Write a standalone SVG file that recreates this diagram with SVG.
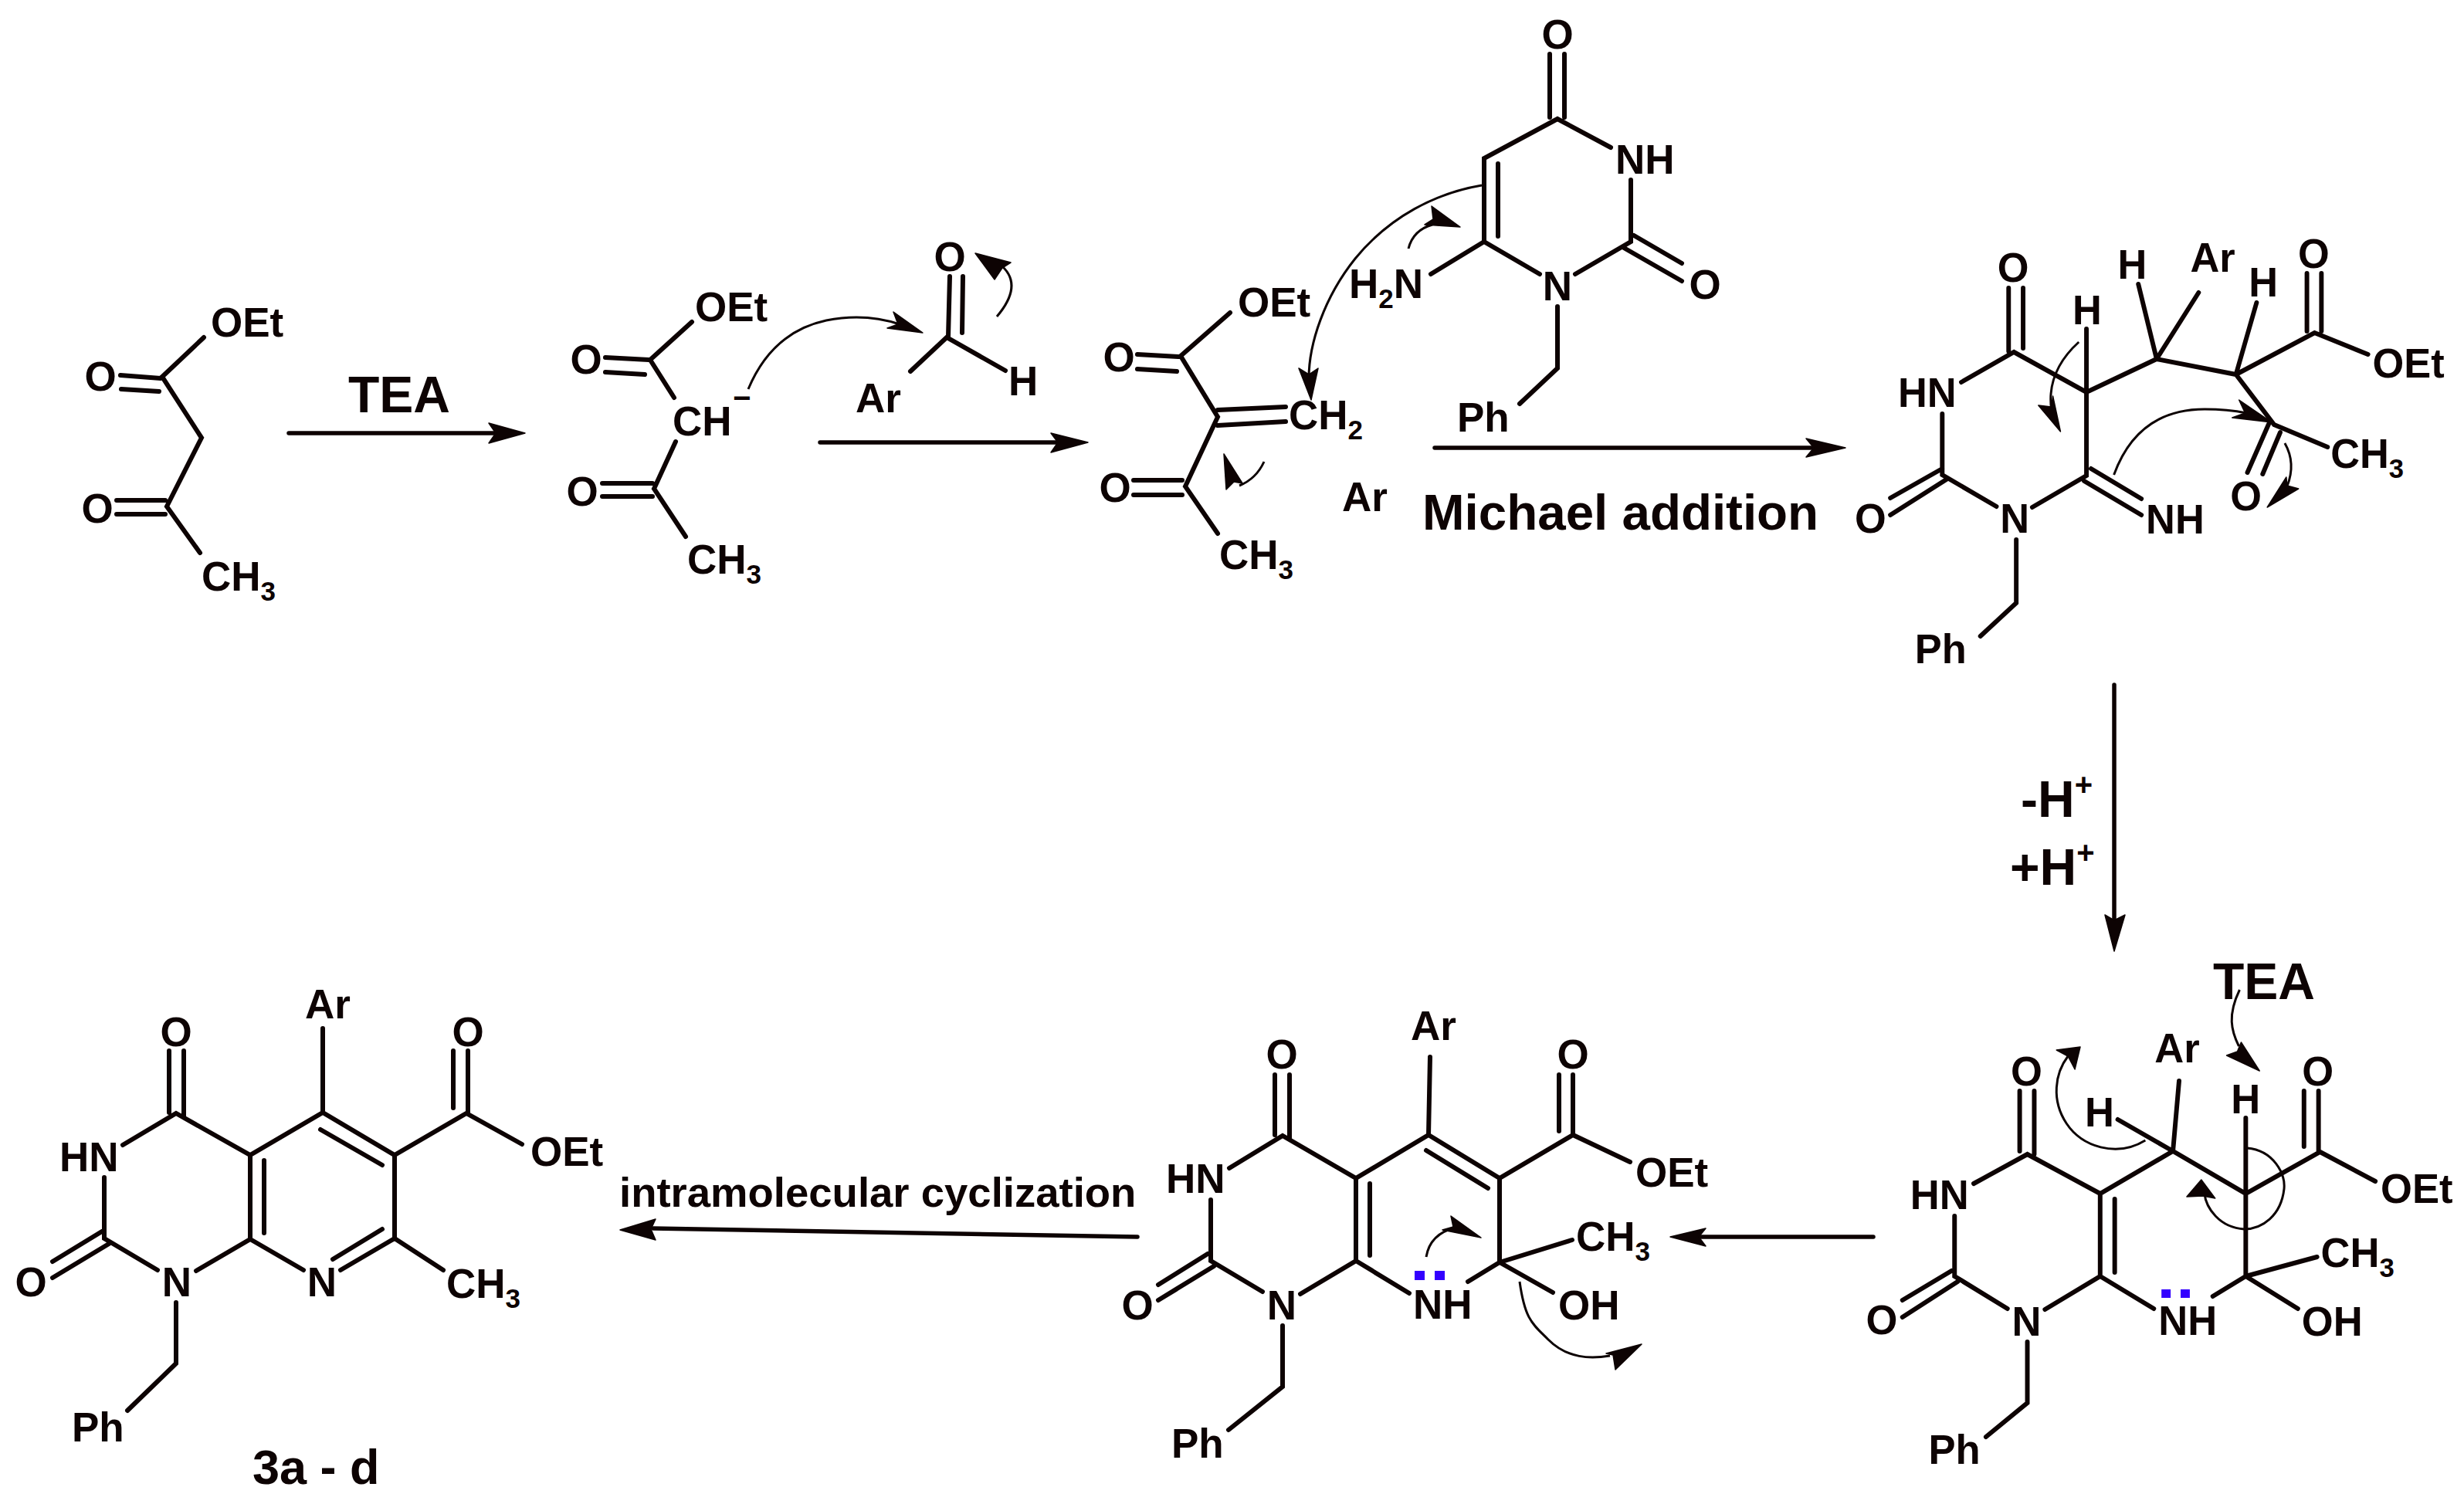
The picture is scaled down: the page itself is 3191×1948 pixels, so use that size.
<svg xmlns="http://www.w3.org/2000/svg" width="3191" height="1948" viewBox="0 0 3191 1948">
<style>
text{font-family:"Liberation Sans",Arial,sans-serif;font-weight:700;font-size:53px;fill:#0d0303}
.m{text-anchor:middle}
.big{font-size:66px}
.mid{font-size:54.5px}
.s{font-size:35px}
.sp{font-size:40px}
.b{stroke:#0d0303;stroke-width:6;stroke-linecap:round;fill:none}
.a{stroke:#0d0303;stroke-width:5.5;stroke-linecap:round;fill:none}
.c{stroke:#0d0303;stroke-width:3;fill:none}
.h{fill:#0d0303;stroke:#0d0303;stroke-width:1.5;stroke-linejoin:round}
.d{fill:#3300ff}
</style>
<rect width="3191" height="1948" fill="#fff"/>
<g id="connectors">
<path class="a" d="M374 561H640"/><polygon class="h" points="680,561 633,548 642,561 633,574"/>
<path class="a" d="M1062 573H1372"/><polygon class="h" points="1409,573 1361,561 1370,573 1361,586"/>
<path class="a" d="M1858 580H2350"/><polygon class="h" points="2390,580 2339,568 2349,580 2339,592"/>
<path class="a" d="M2738 887V1195"/><polygon class="h" points="2738,1232 2726,1185 2738,1192 2752,1185"/>
<path class="a" d="M2426 1602H2200"/><polygon class="h" points="2163,1602 2209,1591 2200,1602 2209,1614"/>
<path class="a" d="M1473 1602L846 1591"/><polygon class="h" points="803,1593 849,1579 843,1592 849,1606"/>
</g>
<g id="curved-arrows">
<path class="c" d="M969 504Q1000 430 1070 415Q1120 405 1165 420"/><polygon class="h" points="1195,431 1157,404 1163,420 1149,425"/>
<path class="c" d="M1291 410Q1325 370 1298 345"/><polygon class="h" points="1263,328 1309,340 1298,347 1288,362"/>
<path class="c" d="M1919 240C1860 250 1800 280 1755 335C1715 385 1695 445 1695 490"/><polygon class="h" points="1698,518 1682,477 1695,485 1707,477"/>
<path class="c" d="M1824 322Q1830 298 1855 291"/><polygon class="h" points="1891,294 1854,267 1856,284 1845,291"/>
<path class="c" d="M1637 598Q1627 620 1605 629"/><polygon class="h" points="1585,588 1588,634 1598,624 1609,626"/>
<g transform="translate(29.5 0) scale(.988 1)">
<path class="c" d="M2695 443C2665 470 2655 500 2659 530"/><polygon class="h" points="2671,559 2642,525 2659,527 2661,513"/>
<path class="c" d="M2741 615C2765 550 2810 530 2860 530Q2890 530 2915 535"/><polygon class="h" points="2948,547 2905,518 2913,535 2896,541"/>
<path class="c" d="M2965 574Q2980 600 2968 630"/><polygon class="h" points="2942,657 2983,633 2968,629 2967,618"/>
</g>
<g transform="translate(16.5 0) scale(.9924 1)">
<path class="c" d="M2783 1477C2745 1500 2700 1485 2680 1455C2660 1425 2665 1390 2682 1368"/><polygon class="h" points="2698,1356 2667,1360 2682,1368 2691,1385"/>
<path class="c" d="M2906 1282C2890 1315 2895 1335 2905 1355"/><polygon class="h" points="2932,1387 2889,1367 2903,1362 2908,1350"/>
<path class="c" d="M2916 1487C2950 1490 2966 1520 2964 1540C2960 1575 2935 1592 2912 1592C2880 1590 2862 1565 2860 1545"/><polygon class="h" points="2856,1528 2837,1550 2858,1549 2874,1552"/>
</g>
<path class="c" d="M1847 1628Q1852 1598 1885 1590"/><polygon class="h" points="1918,1603 1879,1575 1882,1589 1868,1593"/>
<path class="c" d="M1968 1660C1975 1710 1985 1715 2005 1735C2030 1760 2060 1760 2085 1756"/><polygon class="h" points="2126,1741 2080,1753 2089,1755 2092,1774"/>
</g>
<g id="mol-1">
<path class="b" d="M264 437L210 488L261 567L216 656L259 716M156 486L208 490M157 504L206 507M151 648H214M151 666H214"/>
<text x="273" y="436">OEt</text><text class="m" x="130" y="506">O</text><text class="m" x="126" y="677">O</text>
<text x="261" y="765">CH<tspan class="s" dy="13">3</tspan></text>
</g>
<text id="label-tea-1" class="big" x="451" y="534">TEA</text>
<g id="mol-2">
<path class="b" d="M896 417L842 466L873 515M875 572L847 633L888 695M784 463L840 466M784 482L835 485M780 626H845M780 643H845"/>
<text x="900" y="416">OEt</text><text class="m" x="759" y="484">O</text><text class="m" x="754" y="655">O</text>
<text x="871" y="564">CH</text><text class="sp" x="949" y="529">−</text>
<text x="890" y="743">CH<tspan class="s" dy="13">3</tspan></text>
</g>
<g id="aldehyde">
<path class="b" d="M1179 481L1226 437L1302 480M1230 358L1228 436M1247 358L1246 431"/>
<text class="m" x="1230" y="351">O</text><text x="1306" y="512">H</text><text x="1108" y="534">Ar</text>
</g>
<g id="mol-3">
<path class="b" d="M1593 405L1529 461L1577 540L1535 630L1577 691M1473 459L1526 462M1473 478L1524 481M1577 531L1665 527M1577 551L1665 546M1468 622H1531M1468 641H1531"/>
<text x="1603" y="410">OEt</text><text class="m" x="1449" y="481">O</text><text class="m" x="1444" y="650">O</text>
<text x="1669" y="556">CH<tspan class="s" dy="13">2</tspan></text>
<text x="1579" y="737">CH<tspan class="s" dy="13">3</tspan></text>
<text x="1738" y="662">Ar</text>
</g>
<g id="uracil">
<path class="b" d="M2007 70V152M2026 70V152M2086 191L2017 154L1922 205V313L1994 355M1940 212V306M2112 233V313L2040 355M2116 305L2178 341M2103 321L2178 364M1922 313L1853 355M2017 397V477L1968 523"/>
<text class="m" x="2017" y="63">O</text><text x="2092" y="225">NH</text><text class="m" x="2208" y="387">O</text><text class="m" x="2017" y="389">N</text>
<text x="1747" y="386">H<tspan class="s" dy="13">2</tspan><tspan dy="-13">N</tspan></text>
<text x="1887" y="559">Ph</text>
</g>
<text id="label-michael" class="big" x="1842" y="686" style="font-size:65.5px">Michael addition</text>
<g id="mol-4" transform="translate(29.5 0) scale(.988 1)">
<path class="b" d="M2603 373V455M2622 373V451M2541 495L2610 456L2705 508L2797 465L2901 485L3004 431L3074 459M2516 536V615L2587 656M2516 607L2448 645M2523 620L2448 667M2634 657L2705 616V426M2711 607L2777 646M2702 623L2777 667M2797 465L2773 368M2797 465L2852 379M2901 485L2928 392M2994 354V429M3013 354V429M2901 485L2951 550L3021 579M2944 549L2916 612M2959 560L2936 614M2613 699V781L2566 824"/>
<text class="m" x="2609" y="365">O</text><text x="2458" y="527">HN</text><text class="m" x="2422" y="690">O</text><text class="m" x="2611" y="690">N</text><text x="2783" y="691">NH</text>
<text class="m" x="2706" y="420">H</text><text class="m" x="2765" y="361">H</text><text x="2841" y="352">Ar</text><text class="m" x="2937" y="384">H</text><text class="m" x="3003" y="347">O</text><text x="3080" y="489">OEt</text>
<text x="3025" y="606">CH<tspan class="s" dy="13">3</tspan></text><text class="m" x="2914" y="661">O</text>
<text x="2480" y="859">Ph</text>
</g>
<g id="label-h">
<text class="big" x="2617" y="1058">-H<tspan class="sp" dy="-28">+</tspan></text>
<text class="big" x="2603" y="1146">+H<tspan class="sp" dy="-28">+</tspan></text>
</g>
<text id="label-tea-2" class="big" x="2866" y="1294">TEA</text>
<g id="mol-5" transform="translate(16.5 0) scale(.9924 1)">
<path class="b" d="M2827 1400L2819 1491M2747 1450L2819 1491M2619 1413V1491M2638 1413V1495M2559 1533L2629 1495L2724 1546L2819 1491L2914 1546L3011 1492L3083 1530M2534 1575V1653L2603 1695M2530 1646L2466 1684M2538 1660L2466 1706M2652 1696L2724 1653V1546M2743 1553V1648M2914 1448V1653L3007 1628M2990 1413V1485M3009 1413V1492M2914 1653L2982 1695M2914 1653L2871 1679M2724 1653L2794 1695M2629 1738V1817L2575 1861"/>
<text x="2795" y="1376">Ar</text><text x="2704" y="1459">H</text><text class="m" x="2628" y="1406">O</text><text x="2476" y="1566">HN</text><text class="m" x="2439" y="1728">O</text><text class="m" x="2628" y="1730">N</text><text x="2800" y="1729">NH</text>
<text class="m" x="2914" y="1442">H</text><text class="m" x="3008" y="1406">O</text><text x="3090" y="1558">OEt</text><text x="3012" y="1641">CH<tspan class="s" dy="13">3</tspan></text><text x="2987" y="1730">OH</text><text x="2500" y="1896">Ph</text>
<rect class="d" x="2804" y="1670" width="12" height="11"/><rect class="d" x="2829" y="1670" width="12" height="11"/>
</g>
<g id="mol-6">
<path class="b" d="M1852 1369L1850 1470M1651 1392V1470M1670 1392V1475M1592 1513L1661 1471L1756 1526L1850 1470L1942 1526L2037 1470L2111 1505M1568 1554V1633L1635 1673M1564 1624L1500 1664M1572 1640L1500 1684M1684 1676L1756 1633V1526M1774 1533V1626M1847 1490L1927 1539M1942 1526V1635L2036 1606M2019 1392V1465M2037 1392V1470M1942 1635L2011 1674M1942 1635L1901 1660M1756 1633L1825 1675M1661 1717V1796L1591 1852"/>
<text x="1827" y="1347">Ar</text><text class="m" x="1660" y="1384">O</text><text class="m" x="2037" y="1384">O</text><text x="1510" y="1545">HN</text><text class="m" x="1473" y="1709">O</text><text class="m" x="1660" y="1709">N</text><text x="1830" y="1708">NH</text>
<text x="2118" y="1537">OEt</text><text x="2041" y="1620">CH<tspan class="s" dy="13">3</tspan></text><text x="2018" y="1709">OH</text><text x="1517" y="1888">Ph</text>
<rect class="d" x="1832" y="1646" width="13" height="12"/><rect class="d" x="1858" y="1646" width="13" height="12"/>
</g>
<text id="label-intra" class="mid" x="802" y="1563">intramolecular cyclization</text>
<g id="mol-7">
<path class="b" d="M418 1332V1441M219 1361V1441M238 1361V1446M159 1483L228 1442L324 1496L418 1441L511 1496L604 1442L676 1482M135 1525V1604L204 1645M132 1595L68 1634M141 1611L68 1655M254 1646L324 1605V1496M342 1503V1597M415 1463L495 1509M511 1496V1604L441 1645M495 1592L431 1631M587 1361V1435M606 1361V1442M324 1605L393 1645M511 1604L574 1645M228 1687V1766L165 1827"/>
<text x="395" y="1319">Ar</text><text class="m" x="228" y="1355">O</text><text class="m" x="606" y="1355">O</text><text x="77" y="1517">HN</text><text class="m" x="40" y="1679">O</text><text class="m" x="229" y="1679">N</text><text class="m" x="417" y="1679">N</text>
<text x="687" y="1510">OEt</text><text x="578" y="1681">CH<tspan class="s" dy="13">3</tspan></text><text x="93" y="1867">Ph</text>
<text class="big" x="327" y="1922" style="font-size:63px">3a - d</text>
</g>
</svg>
